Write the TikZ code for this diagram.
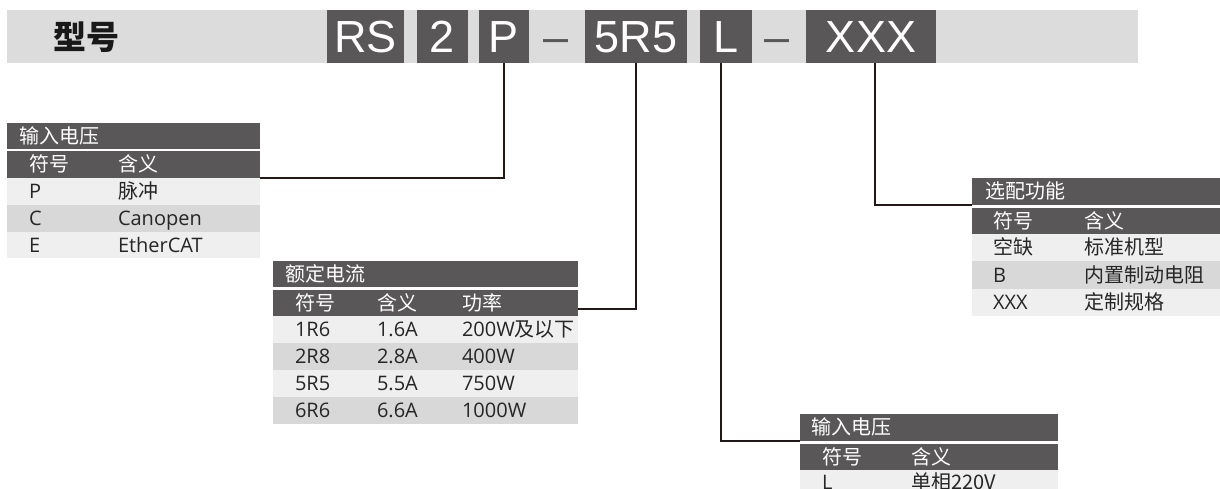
\documentclass[tikz,border=0pt]{standalone}
\usepackage{fontspec}
\setmainfont{Open Sans}
\newfontfamily\cjk{Noto Sans CJK SC}
\newfontfamily\arialf{Liberation Sans}
\definecolor{barc}{HTML}{DCDCDC}
\definecolor{darkc}{HTML}{595757}
\definecolor{rowac}{HTML}{EFEFEF}
\definecolor{rowbc}{HTML}{D8D8D8}
\definecolor{txtc}{HTML}{262626}
\definecolor{linec}{HTML}{231815}
\tikzset{
  bgbox/.style={anchor=north west, inner sep=0pt, outer sep=0pt, draw=none},
  hdrbg/.style={bgbox, fill=darkc},
  abg/.style={bgbox, fill=rowac},
  bbg/.style={bgbox, fill=rowbc},
  codebox/.style={fill=darkc, text=white, font=\arialf\fontsize{45}{45}\selectfont,
    inner sep=0pt, outer sep=0pt, minimum height=53, text height=32.2pt, text depth=0pt, anchor=north west},
  dashtxt/.style={text=darkc, font=\arialf\fontsize{45}{45}\selectfont, inner sep=0pt, anchor=base},
  wtxt/.style={text=white, anchor=west, inner sep=0pt, outer sep=0pt,
    font=\fontsize{20}{20}\selectfont, text height=14.3pt, text depth=0pt},
  dtxt/.style={wtxt, text=txtc},
  link/.style={draw=linec, line width=2.2pt},
}
\begin{document}
\begin{tikzpicture}[x=1pt,y=-1pt]
\useasboundingbox (0,0) rectangle (1220,489);
\clip (0,0) rectangle (1220,489);
% top bar
\node[bgbox, fill=barc, minimum width=1131, minimum height=53] (bar) at (7,10) {};
\node[anchor=west, inner sep=0pt, text=black!90, font=\cjk\bfseries\fontsize{33}{33}\selectfont] (model) at (53,37) {型号};
\node[codebox, minimum width=77] (RS) at (327,10) {RS};
\node[codebox, minimum width=51] (two) at (417,10) {2};
\node[codebox, minimum width=50] (P) at (479,10) {P};
\node[dashtxt] (d1) at (556.5,52.5) {–};
\node[codebox, minimum width=102] (R55) at (585,10) {5R5};
\node[codebox, minimum width=52] (L) at (700,10) {L};
\node[dashtxt] (d2) at (777.5,52.5) {–};
\node[codebox, minimum width=130] (XXX) at (806,10) {XXX};

% table 1
\node[hdrbg, minimum width=253, minimum height=26] (t1title) at (7,123) {};
\node[hdrbg, minimum width=253, minimum height=27] (t1head) at (7,151) {};
\node[abg, minimum width=253, minimum height=27] (t1r1) at (7,178) {};
\node[bbg, minimum width=253, minimum height=27] (t1r2) at (7,205) {};
\node[abg, minimum width=253, minimum height=26] (t1r3) at (7,232) {};
\node[wtxt] (t1tt) at (19,136) {\cjk 输入电压};
\node[wtxt] (t1h1) at (29,164.5) {\cjk 符号};
\node[wtxt] (t1h2) at (118,164.5) {\cjk 含义};
\node[dtxt] (t1a1) at (29,191.5) {P};
\node[dtxt] (t1a2) at (118,191.5) {\cjk 脉冲};
\node[dtxt] (t1b1) at (29,218.5) {C};
\node[dtxt] (t1b2) at (118,218.5) {Canopen};
\node[dtxt] (t1c1) at (29,245) {E};
\node[dtxt] (t1c2) at (118,245) {EtherCAT};

% table 2
\node[hdrbg, minimum width=305, minimum height=26] (t2title) at (273,261) {};
\node[hdrbg, minimum width=305, minimum height=26] (t2head) at (273,290) {};
\node[abg, minimum width=305, minimum height=27] (t2r1) at (273,316) {};
\node[bbg, minimum width=305, minimum height=27] (t2r2) at (273,343) {};
\node[abg, minimum width=305, minimum height=27] (t2r3) at (273,370) {};
\node[bbg, minimum width=305, minimum height=27] (t2r4) at (273,397) {};
\node[wtxt] (t2tt) at (285,274) {\cjk 额定电流};
\node[wtxt] (t2h1) at (295,303) {\cjk 符号};
\node[wtxt] (t2h2) at (377,303) {\cjk 含义};
\node[wtxt] (t2h3) at (462,303) {\cjk 功率};
\node[dtxt] (t2a1) at (295,329.5) {1R6};
\node[dtxt] (t2a2) at (377,329.5) {1.6A};
\node[dtxt] (t2a3) at (462,329.5) {200W{\cjk 及以下}};
\node[dtxt] (t2b1) at (295,356.5) {2R8};
\node[dtxt] (t2b2) at (377,356.5) {2.8A};
\node[dtxt] (t2b3) at (462,356.5) {400W};
\node[dtxt] (t2c1) at (295,383.5) {5R5};
\node[dtxt] (t2c2) at (377,383.5) {5.5A};
\node[dtxt] (t2c3) at (462,383.5) {750W};
\node[dtxt] (t2d1) at (295,410.5) {6R6};
\node[dtxt] (t2d2) at (377,410.5) {6.6A};
\node[dtxt] (t2d3) at (462,410.5) {1000W};

% table 3
\node[hdrbg, minimum width=248, minimum height=27] (t3title) at (972,178) {};
\node[hdrbg, minimum width=248, minimum height=26] (t3head) at (972,208) {};
\node[abg, minimum width=248, minimum height=27] (t3r1) at (972,234) {};
\node[bbg, minimum width=248, minimum height=28] (t3r2) at (972,261) {};
\node[abg, minimum width=248, minimum height=27] (t3r3) at (972,289) {};
\node[wtxt] (t3tt) at (985,191.5) {\cjk 选配功能};
\node[wtxt] (t3h1) at (993,221) {\cjk 符号};
\node[wtxt] (t3h2) at (1084,221) {\cjk 含义};
\node[dtxt] (t3a1) at (993,247.5) {\cjk 空缺};
\node[dtxt] (t3a2) at (1084,247.5) {\cjk 标准机型};
\node[dtxt] (t3b1) at (993,275) {B};
\node[dtxt] (t3b2) at (1084,275) {\cjk 内置制动电阻};
\node[dtxt] (t3c1) at (993,302.5) {XXX};
\node[dtxt] (t3c2) at (1084,302.5) {\cjk 定制规格};

% table 4
\node[hdrbg, minimum width=258, minimum height=27] (t4title) at (800,414) {};
\node[hdrbg, minimum width=258, minimum height=26] (t4head) at (800,444) {};
\node[abg, minimum width=258, minimum height=27] (t4r1) at (800,470) {};
\node[wtxt] (t4tt) at (811,427.5) {\cjk 输入电压};
\node[wtxt] (t4h1) at (822,457) {\cjk 符号};
\node[wtxt] (t4h2) at (911,457) {\cjk 含义};
\node[dtxt] (t4a1) at (822,482) {L};
\node[dtxt] (t4a2) at (911,482) {\cjk 单相220V};

% connectors
\coordinate (c2) at (578,309);
\coordinate (Lb) at ([xshift=-5pt]L.south);
\coordinate (Xb) at ([xshift=4pt]XXX.south);
\draw[link] (P.south) |- (t1head.south east);
\draw[link] (R55.south) |- (c2);
\draw[link] (Lb) |- (t4title.south west);
\draw[link] (Xb) |- (t3title.south west);
\end{tikzpicture}
\end{document}
